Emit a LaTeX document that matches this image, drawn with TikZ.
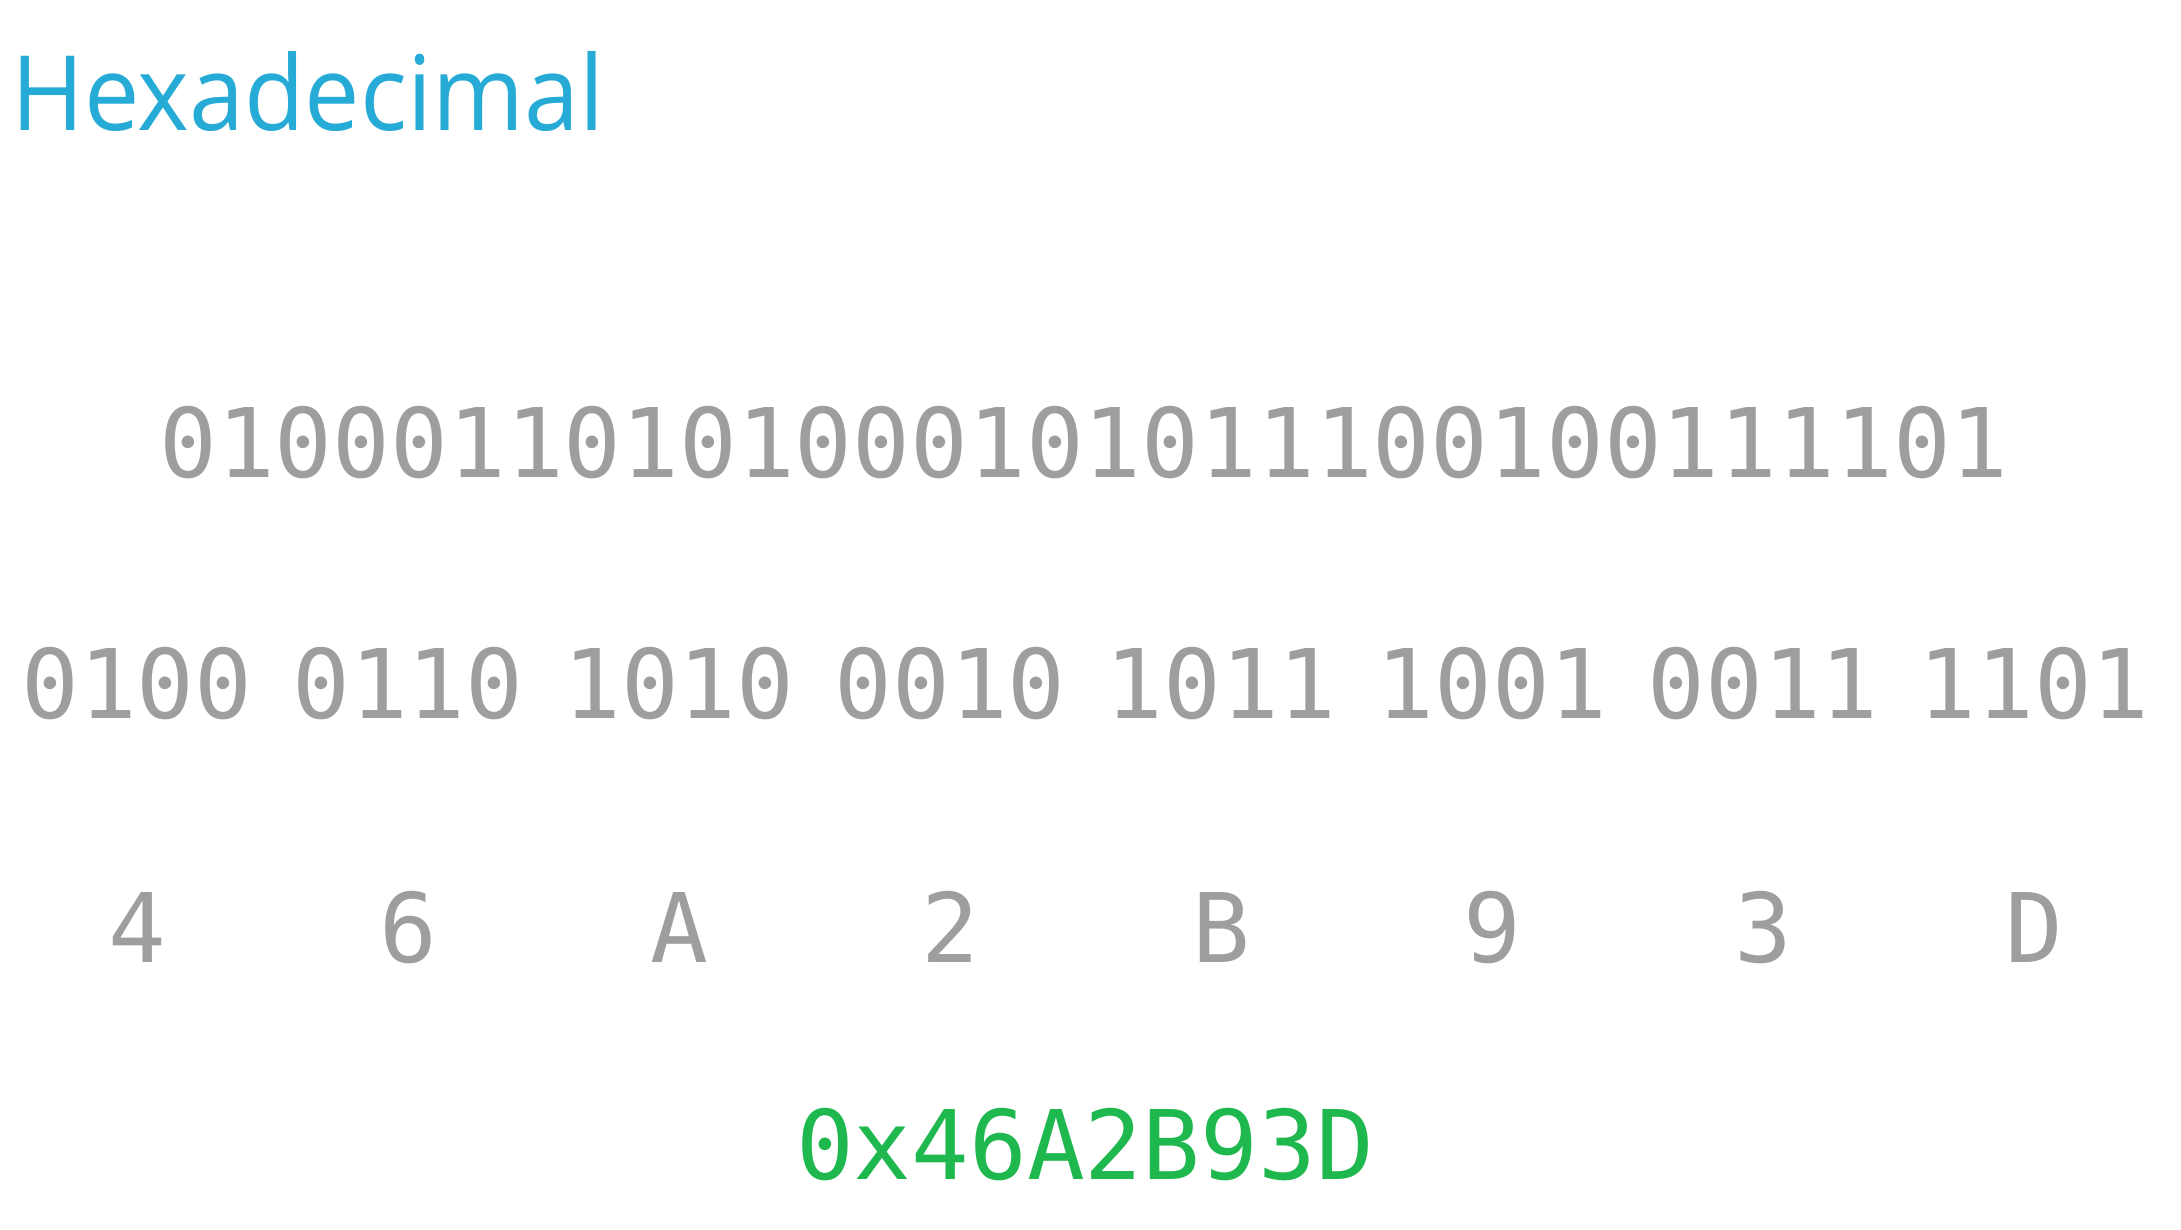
\documentclass[tikz,border=0pt]{standalone}
\usepackage{fontspec}
\usepackage{xcolor}
\setmainfont{Open Sans}
\newfontfamily\codefont{DejaVu Sans Mono}
\definecolor{titleblue}{RGB}{38,170,214}
\definecolor{bitgray}{RGB}{158,158,158}
\definecolor{hexgreen}{RGB}{30,184,78}
\tikzset{
    bits/.style={anchor=base, inner sep=0pt, text=bitgray, font=\codefont\fontsize{96}{96}\selectfont},
    hexout/.style={bits, text=hexgreen}
}

\begin{document}
\begin{tikzpicture}[x=1pt,y=1pt]
    \useasboundingbox (0,0) rectangle (2181,1230);
    \node [anchor=base west, inner sep=0pt, text=titleblue, font=\fontsize{104}{104}\selectfont, xscale=0.95, transform shape] (title) at (11,1099) {Hexadecimal};
    \node [bits] (word) at (1084,752) {01000110101000101011100100111101};
    % nibbles
    \node [bits] (n1) at (137,511) {0100};
    \node [bits] (n2) at (408,511) {0110};
    \node [bits] (n3) at (679,511) {1010};
    \node [bits] (n4) at (950,511) {0010};
    \node [bits] (n5) at (1221,511) {1011};
    \node [bits] (n6) at (1492,511) {1001};
    \node [bits] (n7) at (1763,511) {0011};
    \node [bits] (n8) at (2034,511) {1101};
    % hex digits
    \node [bits] (h1) at (137,267) {4};
    \node [bits] (h2) at (408,267) {6};
    \node [bits] (h3) at (679,267) {A};
    \node [bits] (h4) at (950,267) {2};
    \node [bits] (h5) at (1221,267) {B};
    \node [bits] (h6) at (1492,267) {9};
    \node [bits] (h7) at (1763,267) {3};
    \node [bits] (h8) at (2034,267) {D};
    \node [hexout] (hex) at (1085,50) {0x46A2B93D};
\end{tikzpicture}
\end{document}
